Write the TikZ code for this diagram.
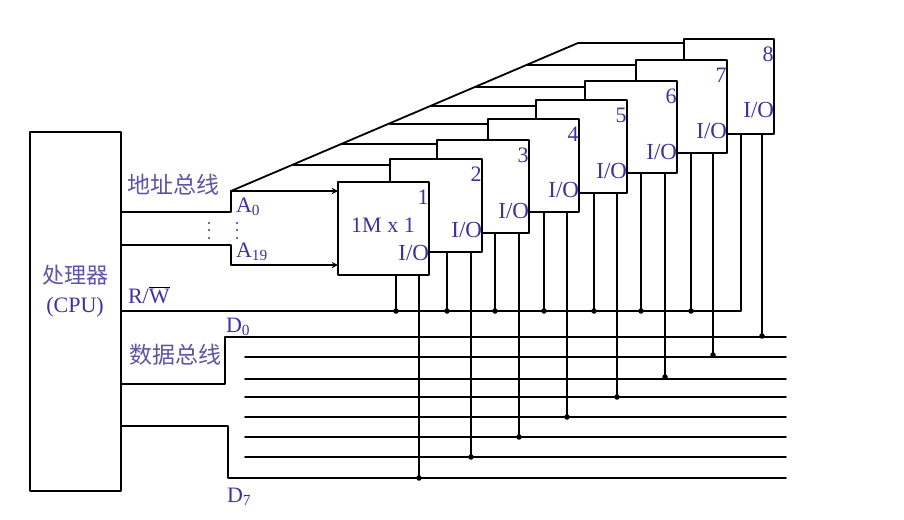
\documentclass[tikz,border=0pt]{standalone}
\usepackage{fontspec}
\setmainfont{Liberation Serif}
\newfontfamily\cjk{Noto Sans CJK SC}
\definecolor{inktext}{RGB}{62,50,160}
\definecolor{inkcjk}{RGB}{92,84,165}
\begin{document}
\begin{tikzpicture}[x=1pt,y=-1pt,line join=round,line cap=round,>=stealth,line width=1.8pt]
	\tikzset{every node/.style={inner sep=0pt,outer sep=0pt},
		boxnode/.style={draw,fill=white,line width=2.2pt,anchor=north west},
		lbl/.style={text=inktext,font=\fontsize{22}{24}\selectfont},
		lblio/.style={text=inktext,font=\fontsize{23}{24}\selectfont},
		lblcjk/.style={text=inkcjk,font=\cjk\fontsize{23}{25}\selectfont},
		junc/.style={circle,fill=black,minimum size=5.5pt},
		vdot/.style={circle,fill=inktext,minimum size=2.2pt}}
	\useasboundingbox (0,0) rectangle (904,519);
	% processor
	\node[boxnode,minimum width=91pt,minimum height=359pt] (cpu) at (30,132) {};
	\node[lblcjk,font=\cjk\fontsize{22}{25}\selectfont,align=center,anchor=center] (cpulabel) at (75,291) {处理器\\[4pt]{\color{inktext}\rmfamily (CPU)}};
	% memory chips, back to front
	\foreach \n/\l/\t/\w/\h in {8/684/39/90/95,7/636/60/91/93,6/585/81/92/92,5/536/100/91/93,4/488/119/91/93,3/437/140/92/93,2/390/159/92/93,1/338/182/91/93} {
		\node[boxnode,minimum width=\w pt,minimum height=\h pt] (chip\n) at (\l,\t) {};
		\node[lbl,anchor=east] (num\n) at ([shift={(-0.5,15)}]chip\n.north east) {\n};
		\node[lblio,anchor=east] (io\n) at ([shift={(0,71)}]chip\n.north east) {I/O};
	}
	\node[lbl] (size1) at (383,225) {1M x 1};
	% address bus
	\coordinate (a0) at (231,191);
	\coordinate (a19) at (231,265);
	\coordinate (atop) at (578,43);
	\draw[->] (cpu.east |- 0,212) -| (a0) -- (a0 -| chip1.west);
	\draw[->] (cpu.east |- 0,245) -| (a19) -- (a19 -| chip1.west);
	\draw (a0) -- (atop) -- (atop -| chip8.west);
	\foreach \n/\bx/\by in {2/293/165,3/341/144,4/390/124,5/431/106,6/476/87,7/527/65} {
		\coordinate (br\n) at (\bx,\by);
		\draw (br\n) -- (br\n -| chip\n.west);
	}
	% read and write line
	\coordinate (wrend) at (741,311);
	\draw (cpu.east |- wrend) -- (wrend) -- (wrend |- chip8.south);
	% data bus
	\coordinate (d0) at (225,337);
	\coordinate (d7) at (228,478);
	\draw (cpu.east |- 0,384) -| (d0) -- (d0 -| 786,0);
	\draw (cpu.east |- 0,426) -| (d7) -- (d7 -| 786,0);
	\foreach \y in {357,379,397,417,437,457} {
		\coordinate (ds\y) at (245,\y);
		\coordinate (de\y) at (786,\y);
		\draw (ds\y) -- (de\y);
	}
	% chip pins
	\foreach \n/\pr/\pd/\yd in {1/396/419/478,2/447/471/457,3/495/519/437,4/544/567/417,5/594/617/397,6/641/665/377,7/691/713/355} {
		\node[junc] (wr\n) at (\pr,311) {};
		\node[junc] (dt\n) at (\pd,\yd) {};
		\draw (wr\n.center) -- (wr\n |- chip\n.south);
		\draw (dt\n.center) -- (dt\n |- chip\n.south);
	}
	\node[junc] (dt8) at (762,336) {};
	\draw (dt8.center) -- (dt8 |- chip8.south);
	% bus labels
	\node[lblcjk] (abus) at (173,185) {地址总线};
	\node[lblcjk] (dbus) at (175,355) {数据总线};
	\node[lbl,anchor=west] (la0) at (236,207) {A\textsubscript{0}};
	\node[lbl,anchor=west] (la19) at (236,252) {A\textsubscript{19}};
	\node[lbl,anchor=west] (lrw) at (128,295) {R/{\color{black}$\overline{\mbox{\color{inktext}W}}$}};
	\node[lbl,anchor=west] (ld0) at (226,327) {D\textsubscript{0}};
	\node[lbl,anchor=west] (ld7) at (227,497) {D\textsubscript{7}};
	% ellipsis dots on the address lines
	\foreach \x/\m in {209/a,237/b}
		\foreach \y in {223,230,238}
			\node[vdot] (vd\m\y) at (\x,\y) {};
\end{tikzpicture}
\end{document}
